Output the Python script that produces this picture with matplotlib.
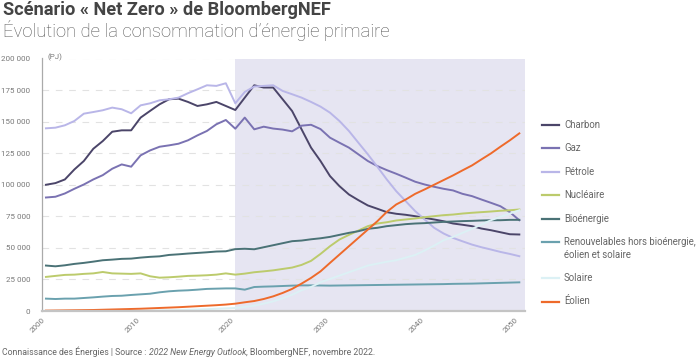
import matplotlib
matplotlib.use("Agg")
import matplotlib.pyplot as plt
from matplotlib.ticker import FuncFormatter, FixedLocator
from matplotlib.lines import Line2D

years = list(range(2000, 2051))

charbon = [100000, 101300, 104200, 112100, 118800, 128500, 134600, 142000, 143100, 143100,
           153200, 158500, 163700, 167700, 168200, 165600, 162400, 163700, 165600, 162400,
           159200, 169000, 178800, 177000, 177000, 167700, 158400, 143900, 129400, 118800,
           106900, 98900, 92300, 87800, 83600, 81000, 78300, 77000, 76200, 75100,
           73800, 72500, 71100, 69300, 68300, 67200, 65300, 64000, 62400, 60800, 60600]
gaz = [89900, 90500, 93100, 96800, 100200, 104200, 107600, 112700, 116100, 114300,
       123300, 127200, 130100, 131200, 132500, 135200, 139100, 142600, 147900, 151300,
       144400, 153200, 143900, 146000, 144500, 143700, 142300, 146800, 147500, 144100,
       137300, 133300, 129400, 124100, 118800, 114800, 111600, 108700, 105600, 102400,
       100200, 98400, 96800, 95500, 92800, 91000, 88300, 85700, 83000, 78300, 71900]
petrole = [144700, 145200, 147100, 150500, 156300, 157600, 159000, 161100, 159800, 156600,
           162900, 164500, 166900, 167700, 169000, 172500, 175600, 178800, 178300, 180400,
           164500, 173500, 177800, 178300, 178800, 174300, 171700, 169000, 165600, 161900,
           157100, 150500, 142600, 133300, 124100, 114300, 104200, 94900, 87000, 79100,
           72500, 65900, 61400, 57900, 55200, 52600, 50500, 48700, 46800, 45200, 43400]
nucleaire = [27000, 27800, 28600, 28800, 29400, 29800, 30900, 29800, 29600, 29400,
             29800, 27500, 26400, 26700, 27200, 27800, 28000, 28300, 28800, 29800,
             28800, 29600, 30700, 31400, 32200, 33300, 34400, 36500, 39700, 45200,
             51300, 56600, 60300, 63700, 67200, 69300, 70300, 71700, 72500, 73300,
             74300, 75100, 75900, 76400, 77200, 77800, 78300, 78800, 79400, 79800, 80400]
bioenergie = [36000, 35400, 36200, 37300, 38100, 39100, 40200, 40700, 41300, 41500,
              42300, 42900, 43300, 44400, 44900, 45500, 46000, 46500, 47100, 47300,
              49000, 49300, 48900, 50500, 52100, 53700, 55300, 55800, 56800, 57600,
              58700, 60300, 61900, 63200, 65100, 65900, 67200, 68000, 68800, 69300,
              69600, 70100, 70600, 70900, 71200, 71400, 71700, 71900, 71900, 72200, 72200]
renouvelables = [9800, 9500, 9800, 9800, 10300, 10800, 11400, 11900, 12100, 12700,
                 13200, 13700, 14800, 15600, 16100, 16400, 16900, 17500, 17700, 17900,
                 17900, 16900, 19000, 19300, 19500, 19800, 20100, 20300, 20300, 20200,
                 20100, 20200, 20300, 20400, 20500, 20600, 20700, 20800, 20900, 21000,
                 21100, 21200, 21300, 21500, 21600, 21700, 21900, 22100, 22300, 22500, 22700]
solaire = [100, 100, 100, 100, 100, 100, 100, 200, 200, 200,
           300, 400, 500, 600, 800, 1000, 1200, 1500, 1800, 2100,
           2400, 3200, 4200, 5800, 7600, 10000, 12900, 16400, 19000, 22700,
           25400, 28000, 30700, 33300, 36000, 37500, 39000, 40200, 42300, 44400,
           47900, 51800, 56000, 58700, 61900, 65100, 68500, 71900, 74600, 77200, 79800]
eolien = [300, 400, 500, 600, 700, 800, 1000, 1200, 1400, 1600,
          1800, 2100, 2400, 2700, 3000, 3400, 3800, 4200, 4600, 5100,
          5800, 6900, 7900, 9500, 11600, 14300, 17500, 21700, 26200, 31400,
          38100, 44700, 51300, 57900, 64500, 71100, 78500, 84400, 88300, 92800,
          96300, 100000, 103700, 107400, 111400, 115300, 120100, 124800, 130100, 135200, 140700]

series_names = ["Charbon", "Gaz", "Pétrole", "Nucléaire", "Bioénergie",
                "Renouvelables hors bioénergie,\néolien et solaire", "Solaire", "Éolien"]
series_values = [charbon, gaz, petrole, nucleaire, bioenergie, renouvelables, solaire, eolien]
series_colors = ["#4b4569", "#7a72b2", "#b9b6e8", "#bccb6c", "#4a7276",
                 "#6aa1ae", "#dcf1f5", "#ee6a2b"]

x_ticks = [2000, 2010, 2020, 2030, 2040, 2050]
y_ticks = [0, 25000, 50000, 75000, 100000, 125000, 150000, 175000, 200000]
projection_start = 2020

plt.rcParams['font.family'] = ['Roboto', 'DejaVu Sans']

W, H = 700, 357
fig = plt.figure(figsize=(7, 3.57), dpi=100)
ax = fig.add_axes([41.7 / W, 1 - 311 / H, (525 - 41.7) / W, (311 - 58.5) / H])

ax.set_xlim(1999.55, 2050.6)
ax.set_ylim(0, 200000)
ax.axvspan(projection_start, 2050.6, color="#e6e5f2", zorder=0, lw=0)

for vals, col in zip(series_values, series_colors):
    ax.plot(years, vals, color=col, lw=1.4, zorder=3, solid_joinstyle='round')

ax.yaxis.set_major_locator(FixedLocator(y_ticks))
ax.xaxis.set_major_locator(FixedLocator(x_ticks))
ax.yaxis.set_major_formatter(FuncFormatter(lambda v, p: f"{int(v):,}".replace(",", " ")))
ax.grid(axis='y', color="#e2e2e2", lw=0.8, ls=(0, (6, 6)), zorder=1)
ax.set_axisbelow(True)

for s in ['top', 'right']:
    ax.spines[s].set_visible(False)
ax.spines['left'].set_color("#aaaaaa")
ax.spines['left'].set_linewidth(0.9)
ax.spines['left'].set_zorder(4)
ax.spines['bottom'].set_color("#c4c4c4")
ax.spines['bottom'].set_linewidth(1.6)
ax.spines['bottom'].set_zorder(4)

ax.tick_params(axis='both', length=0, labelsize=5.8, labelcolor="#777777")
ax.tick_params(axis='y', pad=8.2)
ax.tick_params(axis='x', pad=4)
for lab in ax.get_xticklabels():
    lab.set_rotation(45)
    lab.set_ha('right')
    lab.set_va('top')

fig.text(48 / W, 1 - 57 / H, "(PJ)", fontsize=5.8,
         color="#777777", va='center', ha='left')

# Titles
renderer = fig.canvas.get_renderer()

def fit_text(x, y, s, target_w, **kw):
    t = fig.text(x / W, 1 - y / H, s, **kw)
    w = t.get_window_extent(renderer).width
    t.set_fontsize(t.get_fontsize() * target_w / w)
    return t

fit_text(3, 15, "Scénario « Net Zero » de BloombergNEF", 327, fontsize=12,
         fontweight='bold', color="#444444", va='baseline', ha='left')
fit_text(3, 37, "Évolution de la consommation d’énergie primaire", 387, fontsize=12,
         fontweight='light', color="#555555", va='baseline', ha='left')

# Footer with italic part
foot_parts = [("Connaissance des Énergies | Source : ", 'normal'),
              ("2022 New Energy Outlook", 'italic'),
              (", BloombergNEF, novembre 2022.", 'normal')]
fs = 6.3
xpos = 2.5
for txt, style in foot_parts:
    t = fig.text(xpos / W, 1 - 355 / H, txt, fontsize=fs, style=style,
                 color="#666666", va='baseline', ha='left')
    xpos += t.get_window_extent(renderer).width

# Legend drawn manually
leg_y = 125.0
for name, col in zip(series_names, series_colors):
    fig.add_artist(Line2D([541.7 / W, 559 / W], [1 - leg_y / H, 1 - leg_y / H],
                          color=col, lw=1.6, transform=fig.transFigure))
    lines = name.split("\n")
    for k, ln in enumerate(lines):
        fig.text(564 / W, 1 - (leg_y + k * 12.7) / H, ln, fontsize=6.9,
                 color="#666666", va='center', ha='left')
    leg_y += 23.4 + 12.7 * (len(lines) - 1)

fig.savefig("out.png", dpi=100)
